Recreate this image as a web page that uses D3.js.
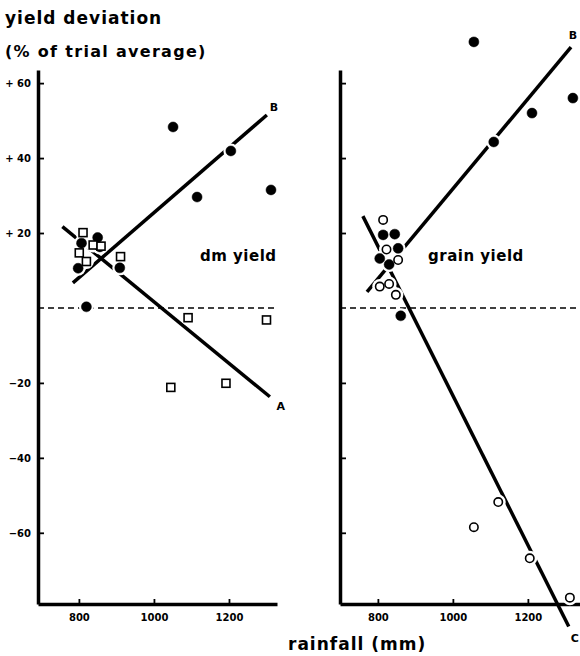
<!DOCTYPE html>
<html>
<head>
<meta charset="utf-8">
<script src="https://cdn.jsdelivr.net/npm/d3@7"></script>
<style>
  body { margin: 0; background: #fff; }
  svg text { font-family: "DejaVu Sans", sans-serif; font-weight: bold; fill: #000; }
</style>
</head>
<body>
<div id="chart"></div>
<script>
// rainfall (mm) vs yield deviation (% of trial average)
var yTicks = [60, 40, 20, -20, -40, -60];
var xTicks = [800, 1000, 1200];

// dm yield panel
var dmFilled = [[807, 17.3], [850, 18.8], [856, 16.3], [798, 10.6], [909, 10.7], [820, 0.3],
                [1051, 48.3], [1205, 41.9], [1115, 29.6], [1312, 31.5]];
var dmSquares = [[811, 20.1], [801, 14.7], [838, 16.8], [820, 12.4], [859, 16.5], [911, 13.7],
                 [1091, -2.6], [1300, -3.2], [1045, -21.2], [1192, -20.1]];
var dmLineB = [[784, 6.7], [1301, 51.5]];
var dmLineA = [[756, 21.7], [1309, -23.7]];

// grain yield panel
var grainFilled = [[814, 19.5], [845, 19.7], [854, 15.9], [805, 13.2], [830, 11.6], [861, -2.1],
                   [1056, 71], [1109, 44.3], [1211, 52], [1320, 56]];
var grainOpen = [[814, 23.5], [823, 15.6], [854, 12.8], [805, 5.7], [830, 6.4], [848, 3.5],
                 [1056, -58.5], [1121, -51.8], [1205, -66.8], [1312, -77.3]];
var grainLineB = [[771, 4.3], [1315, 69.6]];
var grainLineC = [[760, 24.5], [1309, -85]];

var width = 580, height = 656;

var svg = d3.select("#chart").append("svg")
    .attr("width", width)
    .attr("height", height);

var y = d3.scaleLinear().domain([-79, 63.5]).range([604, 70]);
var xLeft = d3.scaleLinear().domain([691, 1328]).range([38, 277]);
var xRight = d3.scaleLinear().domain([699, 1339]).range([340, 580]);

function drawPanel(x, showLabels) {
    var g = svg.append("g");

    // zero reference
    g.append("line")
        .attr("x1", x.range()[0]).attr("x2", x.range()[1])
        .attr("y1", y(0)).attr("y2", y(0))
        .attr("stroke", "#000")
        .attr("stroke-width", 1.6)
        .attr("stroke-dasharray", "6,4");

    var yAxis = d3.axisLeft(y)
        .tickValues(yTicks)
        .tickSizeInner(-6)
        .tickSizeOuter(0)
        .tickPadding(7)
        .tickFormat(showLabels ? function(d) { return d > 0 ? "+ " + d : "\u2212" + Math.abs(d); } : "");

    var ya = g.append("g")
        .attr("transform", "translate(" + x.range()[0] + ",0)")
        .call(yAxis);
    ya.select(".domain").attr("stroke-width", 3.5);
    ya.selectAll(".tick line").attr("stroke-width", 1.8);
    ya.selectAll("text").style("font-size", "10px").style("font-family", "DejaVu Sans");

    var xAxis = d3.axisBottom(x)
        .tickValues(xTicks)
        .tickSizeInner(-5)
        .tickSizeOuter(0)
        .tickPadding(10)
        .tickFormat(d3.format("d"));

    var xa = g.append("g")
        .attr("transform", "translate(0," + y.range()[0] + ")")
        .call(xAxis);
    xa.select(".domain").attr("stroke-width", 3.5);
    xa.selectAll(".tick line").attr("stroke-width", 1.8);
    xa.selectAll("text").style("font-size", "10px").style("font-family", "DejaVu Sans");

    return g;
}

function drawLine(g, x, pts) {
    g.append("line")
        .attr("x1", x(pts[0][0])).attr("y1", y(pts[0][1]))
        .attr("x2", x(pts[1][0])).attr("y2", y(pts[1][1]))
        .attr("stroke", "#000")
        .attr("stroke-width", 3.5);
}

function drawCircles(g, x, pts, filled) {
    g.selectAll(null)
        .data(pts)
        .enter().append("circle")
        .attr("cx", d => x(d[0]))
        .attr("cy", d => y(d[1]))
        .attr("r", filled ? 5 : 4.2)
        .attr("fill", filled ? "#000" : "#fff")
        .attr("stroke", "#000")
        .attr("stroke-width", filled ? 0.5 : 1.6);
}

function drawHalo(g, x, pts, r) {
    g.selectAll(null)
        .data(pts)
        .enter().append("circle")
        .attr("cx", d => x(d[0]))
        .attr("cy", d => y(d[1]))
        .attr("r", r)
        .attr("fill", "#fff");
}

// left panel: dm yield
var left = drawPanel(xLeft, true);
drawLine(left, xLeft, dmLineB);
drawLine(left, xLeft, dmLineA);
drawHalo(left, xLeft, dmFilled.concat(dmSquares), 7.5);
drawCircles(left, xLeft, dmFilled, true);

left.selectAll(null)
    .data(dmSquares)
    .enter().append("rect")
    .attr("x", d => xLeft(d[0]) - 4)
    .attr("y", d => y(d[1]) - 4)
    .attr("width", 8)
    .attr("height", 8)
    .attr("fill", "#fff")
    .attr("stroke", "#000")
    .attr("stroke-width", 1.6);

// right panel: grain yield
var right = drawPanel(xRight, false);
drawLine(right, xRight, grainLineB);
drawLine(right, xRight, grainLineC);
drawHalo(right, xRight, grainFilled.concat(grainOpen), 7.5);
drawCircles(right, xRight, grainOpen, false);
drawCircles(right, xRight, grainFilled, true);

// line letters
function letter(txt, px, py) {
    svg.append("text").attr("x", px).attr("y", py)
        .attr("text-anchor", "middle")
        .style("font-size", "11px")
        .text(txt);
}
letter("B", xLeft(dmLineB[1][0]) + 7, y(dmLineB[1][1]) - 4);
letter("A", xLeft(dmLineA[1][0]) + 11, y(dmLineA[1][1]) + 13);
letter("B", xRight(grainLineB[1][0]) + 2, y(grainLineB[1][1]) - 8);
letter("C", xRight(grainLineC[1][0]) + 6, y(grainLineC[1][1]) + 16);

// titles
svg.append("text").attr("x", 5).attr("y", 24)
    .style("font-size", "17px").style("letter-spacing", "1px")
    .text("yield deviation");
svg.append("text").attr("x", 5).attr("y", 57)
    .style("font-size", "16px").style("letter-spacing", "1.3px")
    .text("(% of trial average)");

svg.append("text").attr("x", 200).attr("y", 261)
    .style("font-size", "15px").style("letter-spacing", "0.5px")
    .text("dm yield");
svg.append("text").attr("x", 428).attr("y", 261)
    .style("font-size", "15px").style("letter-spacing", "0.5px")
    .text("grain yield");

svg.append("text").attr("x", 288).attr("y", 650)
    .style("font-size", "17px").style("letter-spacing", "1px")
    .text("rainfall  (mm)");
</script>
</body>
</html>
